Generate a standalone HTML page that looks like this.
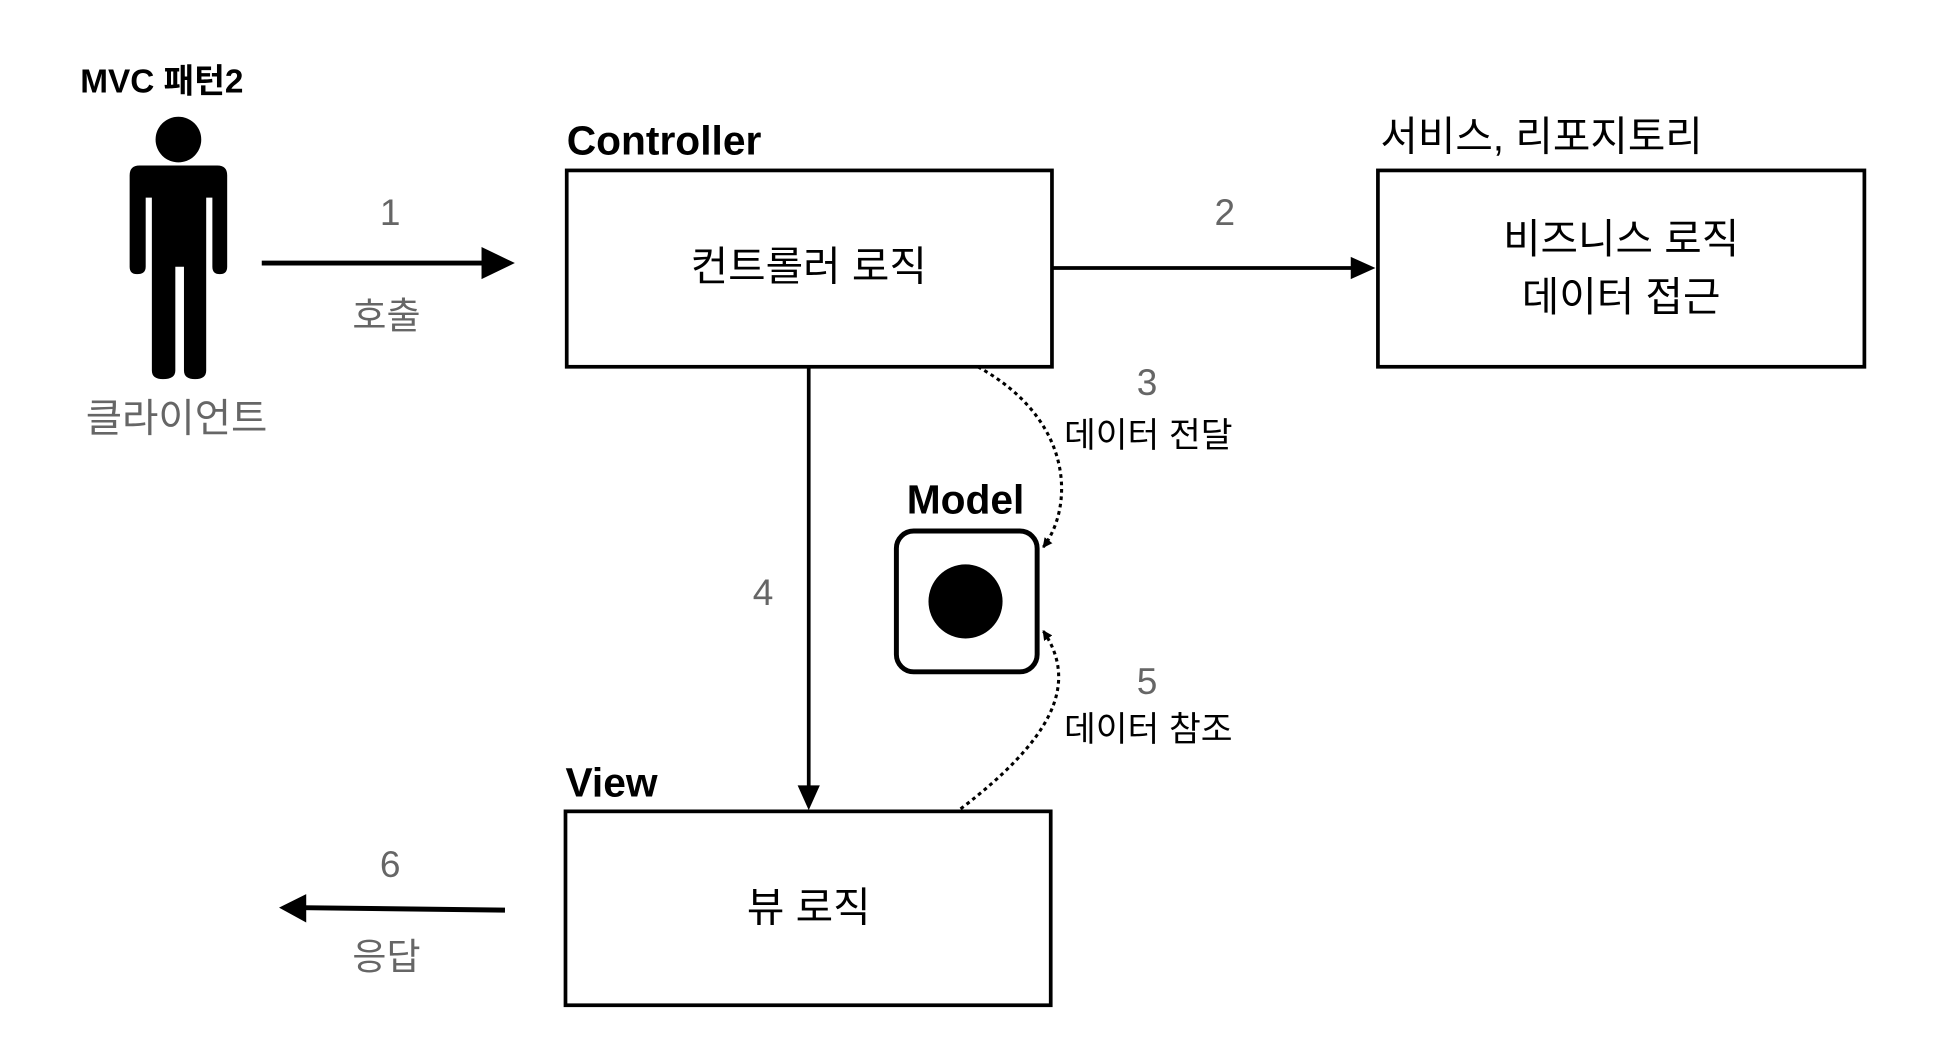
<!DOCTYPE html>
<html><head><meta charset="utf-8"><style>
html,body{margin:0;padding:0;background:#fff;}
svg{display:block;}
text{font-family:"Liberation Sans","Noto Sans CJK KR",sans-serif;}
</style></head><body>
<svg width="1936" height="1046" viewBox="0 0 1568 847" preserveAspectRatio="none" xmlns="http://www.w3.org/2000/svg">
<defs>
<marker id="ahs" markerWidth="8" markerHeight="8" refX="7" refY="4" orient="auto" markerUnits="userSpaceOnUse">
<path d="M0,0 L8,4 L0,8 z" fill="#000"/></marker>
</defs>
<text x="65" y="75" font-size="27" font-weight="bold">MVC 패턴2</text>
<circle cx="144.5" cy="113" r="18.5" fill="#000"/>
<path d="M113,134 H176 Q184,134 184,142 V216 Q184,222 178,222 Q172,222 172,216 V160 H167 V300 Q167,307 158,307 Q149,307 149,300 V216 H142 V300 Q142,307 132,307 Q123,307 123,300 V160 H118 V216 Q118,222 111,222 Q105,222 105,216 V142 Q105,134 113,134 Z" fill="#000"/>
<text x="143" y="350" font-size="32" fill="#666" text-anchor="middle">클라이언트</text>
<line x1="212" y1="213" x2="395" y2="213" stroke="#000" stroke-width="4"/>
<path d="M390,200 L417,213 L390,226 z" fill="#000"/>
<text x="316" y="182" font-size="30" fill="#666" text-anchor="middle">1</text>
<text x="313" y="266" font-size="30" fill="#666" text-anchor="middle">호출</text>
<text x="459" y="125" font-size="33" font-weight="bold">Controller</text>
<rect x="459" y="138" width="393" height="159" fill="none" stroke="#000" stroke-width="3"/>
<text x="655" y="227" font-size="33" text-anchor="middle">컨트롤러 로직</text>
<line x1="852" y1="217" x2="1100" y2="217" stroke="#000" stroke-width="3"/>
<path d="M1094,208 L1114,217 L1094,226 z" fill="#000"/>
<text x="992" y="182" font-size="30" fill="#666" text-anchor="middle">2</text>
<text x="1118" y="122" font-size="33">서비스, 리포지토리</text>
<rect x="1116" y="138" width="394" height="159" fill="none" stroke="#000" stroke-width="3"/>
<text x="1313" y="205" font-size="33" text-anchor="middle">비즈니스 로직</text>
<text x="1313" y="252" font-size="33" text-anchor="middle">데이터 접근</text>
<path d="M792,297 C870,340 870,410 845,443" fill="none" stroke="#000" stroke-width="2.5" stroke-dasharray="3,3" marker-end="url(#ahs)"/>
<text x="929" y="320" font-size="30" fill="#666" text-anchor="middle">3</text>
<text x="930" y="362" font-size="28" text-anchor="middle">데이터 전달</text>
<text x="782" y="416" font-size="33" font-weight="bold" text-anchor="middle">Model</text>
<rect x="726" y="430" width="114" height="114" rx="14" fill="none" stroke="#000" stroke-width="4"/>
<circle cx="782" cy="487" r="30" fill="#000"/>
<line x1="655" y1="297" x2="655" y2="640" stroke="#000" stroke-width="3"/>
<path d="M646,636 L655,656 L664,636 z" fill="#000"/>
<text x="618" y="490" font-size="30" fill="#666" text-anchor="middle">4</text>
<path d="M778,655 C850,600 875,555 845,511" fill="none" stroke="#000" stroke-width="2.5" stroke-dasharray="3,3" marker-end="url(#ahs)"/>
<text x="929" y="562" font-size="30" fill="#666" text-anchor="middle">5</text>
<text x="930" y="600" font-size="28" text-anchor="middle">데이터 참조</text>
<text x="458" y="645" font-size="33" font-weight="bold">View</text>
<rect x="458" y="657" width="393" height="157" fill="none" stroke="#000" stroke-width="3"/>
<text x="655" y="746" font-size="33" text-anchor="middle">뷰 로직</text>
<line x1="409" y1="737" x2="245" y2="735" stroke="#000" stroke-width="4"/>
<path d="M248,724 L226,735 L248,747 z" fill="#000"/>
<text x="316" y="710" font-size="30" fill="#666" text-anchor="middle">6</text>
<text x="313" y="785" font-size="30" fill="#666" text-anchor="middle">응답</text>
</svg>
</body></html>
